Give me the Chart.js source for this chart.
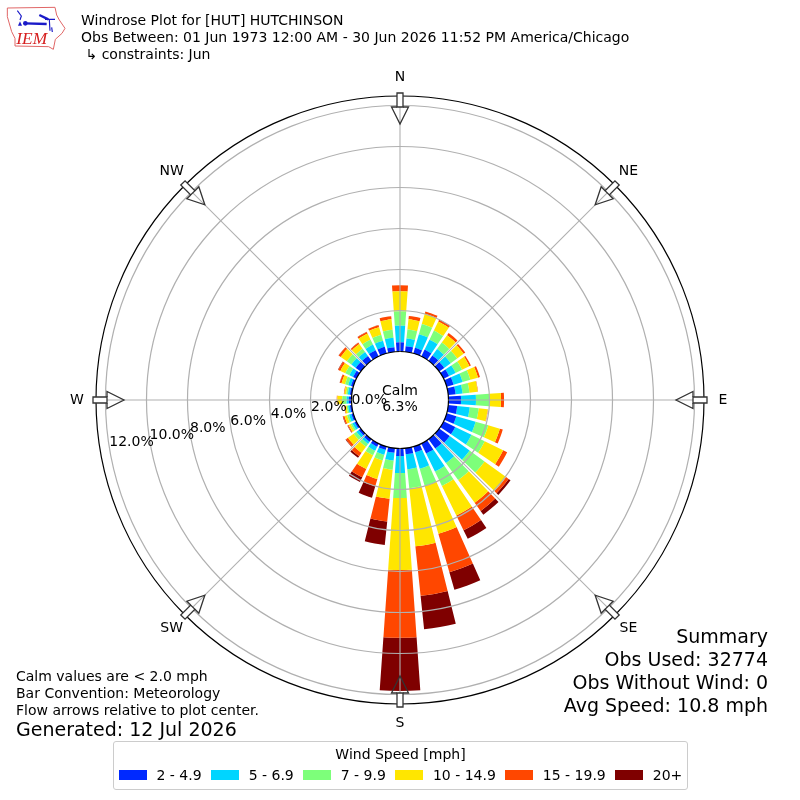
<!DOCTYPE html>
<html>
<head>
<meta charset="utf-8">
<title>Windrose Plot</title>
<script src="https://cdn.jsdelivr.net/npm/chart.js@4"></script>
<style>
  html, body { margin: 0; background: #fff; }
  #page { position: relative; width: 800px; height: 800px; overflow: hidden; font-family: "DejaVu Sans", sans-serif; color: #000; }
  #rose { position: absolute; left: 0; top: 0; }
  .txt { position: absolute; white-space: pre; line-height: 1; transform: translateY(-50%); }
  #legend { position: absolute; left: 113px; top: 741px; width: 573px; height: 47px; border: 1px solid #ccc; border-radius: 3px; background: #fff; font-size: 14px; }
  #legendTitle { position: absolute; left: 0; right: 0; top: 4px; text-align: center; }
  #legendRow { position: absolute; left: 5px; top: 25px; display: flex; align-items: center; white-space: nowrap; }
  .swatch { width: 28px; height: 10px; margin-right: 9.5px; }
  .entry { margin-right: 9.5px; }
  #logo { position: absolute; left: 0; top: 0; }
</style>
</head>
<body>
<div id="page">
  <canvas id="rose" width="800" height="800"></canvas>
  <svg id="logo" width="90" height="60" viewBox="0 0 270 180">
    <path d="M22 24 L165 22 L170 45 L178 60 L195 85 L186 100 L166 118 L160 148 L146 140 L45 138 L45 115 L35 95 L22 50 Z" fill="none" stroke="#e06666" stroke-width="3"/>
    <path d="M52 32 L64 48 L60 60 M135 58 L165 58 M148 60 L150 92 M155 82 L157 96" stroke="#1a1ac8" stroke-width="3.5" fill="none"/>
    <path d="M75 70 L140 72 M118 45 L145 58" stroke="#1a1ac8" stroke-width="7" fill="none"/>
    <circle cx="76" cy="70" r="7" fill="#1a1ac8"/>
    <path d="M60 64 L66 77 L54 77 Z" fill="#1a1ac8"/>
    <text x="49" y="132" font-family="Liberation Serif" font-style="italic" font-size="52" fill="#d62020">IEM</text>
  </svg>
  <div id="legend">
    <div id="legendTitle">Wind Speed [mph]</div>
    <div id="legendRow"></div>
  </div>
</div>
<script>
const directions = ["N", "10", "20", "30", "40", "50", "60", "70", "80", "E", "100", "110", "120", "130", "140", "150", "160", "170", "S", "190", "200", "210", "220", "230", "240", "250", "260", "W", "280", "290", "300", "310", "320", "330", "340", "350"];
const speedLabels = ["2 - 4.9", "5 - 6.9", "7 - 9.9", "10 - 14.9", "15 - 19.9", "20+"];
const speedColors = ["#0029ff", "#00d5ff", "#7dff7a", "#ffe600", "#ff4700", "#7f0000"];

// percent of obs per direction, N going clockwise
const speed2to5 = [0.45, 0.27, 0.28, 0.37, 0.32, 0.30, 0.30, 0.35, 0.36, 0.61, 0.44, 0.49, 0.63, 0.63, 0.56, 0.54, 0.29, 0.30, 0.37, 0.22, 0.17, 0.17, 0.15, 0.12, 0.10, 0.10, 0.09, 0.13, 0.09, 0.12, 0.18, 0.30, 0.29, 0.34, 0.33, 0.22];
const speed5to7 = [0.81, 0.38, 0.69, 0.54, 0.39, 0.39, 0.35, 0.46, 0.34, 0.73, 0.61, 0.98, 0.88, 1.20, 0.88, 0.98, 0.83, 0.73, 0.83, 0.38, 0.24, 0.22, 0.13, 0.14, 0.12, 0.12, 0.09, 0.11, 0.10, 0.14, 0.20, 0.27, 0.24, 0.30, 0.31, 0.47];
const speed7to10 = [0.70, 0.44, 0.52, 0.49, 0.39, 0.39, 0.35, 0.39, 0.34, 0.65, 0.44, 0.64, 0.72, 0.90, 1.02, 0.78, 0.88, 0.93, 1.22, 0.45, 0.29, 0.24, 0.17, 0.17, 0.09, 0.10, 0.07, 0.21, 0.08, 0.16, 0.22, 0.27, 0.20, 0.27, 0.30, 0.39];
const speed10to15 = [0.98, 0.50, 0.52, 0.49, 0.44, 0.39, 0.40, 0.39, 0.40, 0.57, 0.44, 0.59, 1.00, 1.30, 1.37, 1.60, 2.42, 2.85, 3.51, 1.43, 0.94, 0.75, 0.37, 0.34, 0.11, 0.13, 0.09, 0.24, 0.09, 0.18, 0.27, 0.37, 0.28, 0.33, 0.39, 0.51];
const speed15to20 = [0.29, 0.17, 0.12, 0.11, 0.13, 0.10, 0.08, 0.10, 0.02, 0.15, 0.02, 0.15, 0.22, 0.15, 0.49, 0.80, 1.95, 2.43, 3.30, 1.11, 0.37, 0.45, 0.20, 0.12, 0.05, 0.07, 0.03, 0.03, 0.03, 0.09, 0.11, 0.12, 0.08, 0.09, 0.10, 0.15];
const speed20up = [0, 0, 0, 0, 0, 0, 0, 0, 0, 0, 0, 0, 0, 0.12, 0.23, 0.47, 0.89, 1.64, 2.60, 1.15, 0.58, 0.26, 0.10, 0.03, 0.02, 0.02, 0, 0, 0, 0.01, 0.02, 0.01, 0.01, 0.01, 0.01, 0];
const speedSeries = [speed2to5, speed5to7, speed7to10, speed10to15, speed15to20, speed20up];

const ringTicks = [0, 2, 4, 6, 8, 10, 12];
const compassLabels = ["N", "NE", "E", "SE", "S", "SW", "W", "NW"];
const axisMin = -2.366;
const axisMax = 12.463;

const DEG = Math.PI / 180;
const BAR_WIDTH = 8;
const FONT = '"DejaVu Sans", sans-serif';

// polar area can't stack, so work out the inner/outer radius per wedge here
class WindRoseController extends Chart.PolarAreaController {
  static id = "windRose";

  updateElements(arcs, start, count, mode) {
    const scale = this.chart.scales.r;
    for (let i = start; i < start + count; i++) {
      let base = 0;
      for (let d = 0; d < this.index; d++) base += speedSeries[d][i];
      const value = speedSeries[this.index][i];
      const mid = (i * 360) / directions.length - 90;
      const startAngle = (mid - BAR_WIDTH / 2) * DEG;
      const endAngle = (mid + BAR_WIDTH / 2) * DEG;
      this.updateElement(arcs[i], i, {
        x: scale.xCenter,
        y: scale.yCenter,
        innerRadius: scale.getDistanceFromCenterForValue(base),
        outerRadius: scale.getDistanceFromCenterForValue(base + value),
        startAngle: startAngle,
        endAngle: endAngle,
        circumference: endAngle - startAngle,
        options: this.resolveDataElementOptions(i, mode),
      }, mode);
    }
  }
}
Chart.register(WindRoseController);

function drawArrow(ctx, scale, angle) {
  const r = scale.getDistanceFromCenterForValue(axisMax);
  ctx.save();
  ctx.translate(scale.xCenter, scale.yCenter);
  ctx.rotate(angle * DEG);
  ctx.strokeStyle = "#333";
  ctx.lineWidth = 1.3;
  ctx.fillStyle = "#fff";
  ctx.beginPath();
  ctx.rect(-3, -r - 3, 6, 14);
  ctx.fill();
  ctx.stroke();
  ctx.beginPath();
  ctx.moveTo(-3, -r + 11);
  ctx.lineTo(-8.5, -r + 11);
  ctx.lineTo(0, -r + 28);
  ctx.lineTo(8.5, -r + 11);
  ctx.lineTo(3, -r + 11);
  ctx.stroke();
  ctx.restore();
}

const overlayPlugin = {
  id: "overlay",
  afterDraw(chart) {
    const ctx = chart.ctx;
    const scale = chart.scales.r;
    const cx = scale.xCenter;
    const cy = scale.yCenter;
    const inner = scale.getDistanceFromCenterForValue(0);
    const outer = scale.getDistanceFromCenterForValue(axisMax);

    ctx.font = "14px " + FONT;
    ctx.textAlign = "center";
    ctx.textBaseline = "middle";
    compassLabels.forEach((label, i) => {
      const a = (i * 45 - 90) * DEG;
      ctx.strokeStyle = "#b0b0b0";
      ctx.lineWidth = 1.1;
      ctx.beginPath();
      ctx.moveTo(cx + inner * Math.cos(a), cy + inner * Math.sin(a));
      ctx.lineTo(cx + outer * Math.cos(a), cy + outer * Math.sin(a));
      ctx.stroke();
      drawArrow(ctx, scale, i * 45);
      ctx.fillStyle = "#000";
      ctx.fillText(label, cx + (outer + 19) * Math.cos(a), cy + (outer + 19) * Math.sin(a));
    });
    ctx.fillText("Calm", cx, cy - 9);
    ctx.fillText("6.3%", cx, cy + 7);

    // r labels run left-aligned along a line 10 deg below west, from the zero ring
    ctx.textAlign = "left";
    ringTicks.forEach((tick) => {
      const d = scale.getDistanceFromCenterForValue(tick);
      const x = cx - inner - (d - inner) * Math.cos(10 * DEG);
      const y = cy + (d - inner) * Math.sin(10 * DEG);
      ctx.fillText(tick.toFixed(1) + "%", x, y);
    });
  },
};

new Chart(document.getElementById("rose"), {
  type: "windRose",
  data: {
    labels: directions,
    datasets: speedSeries.map((values, i) => ({
      label: speedLabels[i],
      data: values,
      backgroundColor: speedColors[i],
      borderWidth: 0,
    })),
  },
  options: {
    responsive: false,
    animation: false,
    events: [],
    layout: { padding: 96 },
    plugins: { legend: { display: false }, tooltip: { enabled: false } },
    scales: {
      r: {
        type: "radialLinear",
        min: axisMin,
        max: axisMax,
        afterBuildTicks(axis) {
          axis.ticks = [axisMin].concat(ringTicks, [axisMax]).map((v) => ({ value: v }));
        },
        ticks: { display: false },
        angleLines: { display: false },
        pointLabels: { display: false },
        grid: {
          z: 1,
          lineWidth: 1.2,
          color(c) {
            if (c.tick && (c.tick.value === 0 || c.tick.value === axisMax)) return "#000";
            if (c.tick && c.tick.value === axisMin) return "rgba(0,0,0,0)";
            return "#b0b0b0";
          },
        },
      },
    },
  },
  plugins: [overlayPlugin],
});

function addText(text, x, y, size, right) {
  const el = document.createElement("div");
  el.className = "txt";
  el.textContent = text;
  el.style.fontSize = size + "px";
  el.style.top = y + "px";
  if (right) el.style.right = 800 - x + "px";
  else el.style.left = x + "px";
  document.getElementById("page").appendChild(el);
}

addText("Windrose Plot for [HUT] HUTCHINSON", 81, 20, 14);
addText("Obs Between: 01 Jun 1973 12:00 AM - 30 Jun 2026 11:52 PM America/Chicago", 81, 37, 14);
addText(" ↳ constraints: Jun", 81, 54, 14);
addText("Calm values are < 2.0 mph", 16, 676, 14);
addText("Bar Convention: Meteorology", 16, 693, 14);
addText("Flow arrows relative to plot center.", 16, 710, 14);
addText("Generated: 12 Jul 2026", 16, 729, 19);
addText("Summary", 768, 636, 19, true);
addText("Obs Used: 32774", 768, 659, 19, true);
addText("Obs Without Wind: 0", 768, 682, 19, true);
addText("Avg Speed: 10.8 mph", 768, 705, 19, true);

const legendRow = document.getElementById("legendRow");
speedLabels.forEach((label, i) => {
  const swatch = document.createElement("div");
  swatch.className = "swatch";
  swatch.style.background = speedColors[i];
  const entry = document.createElement("div");
  entry.className = "entry";
  entry.textContent = label;
  legendRow.appendChild(swatch);
  legendRow.appendChild(entry);
});
</script>
</body>
</html>
